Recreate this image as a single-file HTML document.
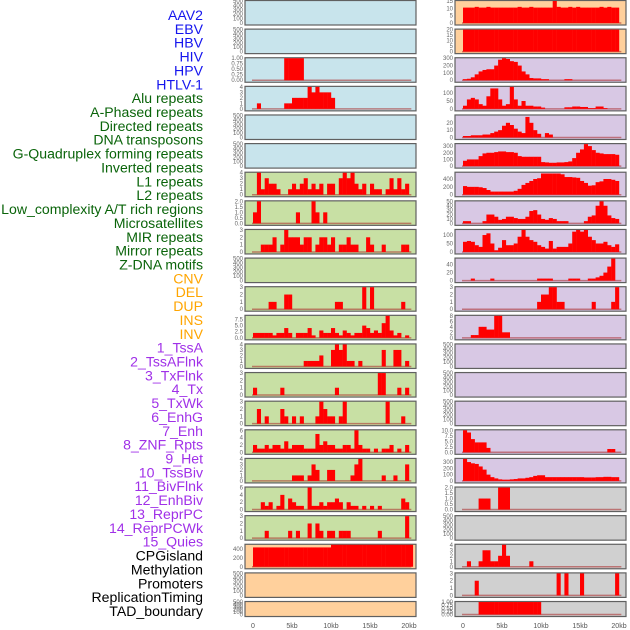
<!DOCTYPE html>
<html><head><meta charset="utf-8"><style>
html,body{margin:0;padding:0;background:#fff;}
svg{display:block;font-family:"Liberation Sans",sans-serif;}
</style></head><body>
<svg id="chart" width="630" height="630" viewBox="0 0 630 630" xmlns="http://www.w3.org/2000/svg">
<g id="labels"></g>
<g id="panels"></g>
</svg>
<script>
// ---- data ----
const trackLabels = ["AAV2","EBV","HBV","HIV","HPV","HTLV-1","Alu repeats","A-Phased repeats","Directed repeats","DNA transposons","G-Quadruplex forming repeats","Inverted repeats","L1 repeats","L2 repeats","Low_complexity A/T rich regions","Microsatellites","MIR repeats","Mirror repeats","Z-DNA motifs","CNV","DEL","DUP","INS","INV","1_TssA","2_TssAFlnk","3_TxFlnk","4_Tx","5_TxWk","6_EnhG","7_Enh","8_ZNF_Rpts","9_Het","10_TssBiv","11_BivFlnk","12_EnhBiv","13_ReprPC","14_ReprPCWk","15_Quies","CPGisland","Methylation","Promoters","ReplicationTiming","TAD_boundary"];
const labelColors = ["#1515ee","#1515ee","#1515ee","#1515ee","#1515ee","#1515ee","#0a640a","#0a640a","#0a640a","#0a640a","#0a640a","#0a640a","#0a640a","#0a640a","#0a640a","#0a640a","#0a640a","#0a640a","#0a640a","#ffa500","#ffa500","#ffa500","#ffa500","#ffa500","#a030e8","#a030e8","#a030e8","#a030e8","#a030e8","#a030e8","#a030e8","#a030e8","#a030e8","#a030e8","#a030e8","#a030e8","#a030e8","#a030e8","#a030e8","#000","#000","#000","#000","#000"];
const xTicks = [0,5,10,15,20];
const xTickLabels = ["0","5kb","10kb","15kb","20kb"];
const binKb = 0.5;
const E = [];
const leftBg = ["#c8e4ec","#c8e4ec","#c8e4ec","#c8e4ec","#c8e4ec","#c8e4ec","#c8e0a4","#c8e0a4","#c8e0a4","#c8e0a4","#c8e0a4","#c8e0a4","#c8e0a4","#c8e0a4","#c8e0a4","#c8e0a4","#c8e0a4","#c8e0a4","#c8e0a4","#ffd09c","#ffd09c","#ffd09c"];
const leftMax = [500,500,1,4,500,500,4,2,3,500,3,9,4,3,3,6,4,6,3,500,500,500];
const leftTicks = [[0,100,200,300,400,500],[0,100,200,300,400,500],[0,0.25,0.5,0.75,1],[0,1,2,3,4],[0,100,200,300,400,500],[0,100,200,300,400,500],[0,1,2,3,4],[0,0.5,1,1.5,2],[0,1,2,3],[0,100,200,300,400,500],[0,1,2,3],[0,2.5,5,7.5],[0,1,2,3,4],[0,1,2,3],[0,1,2,3],[0,2,4,6],[0,1,2,3,4],[0,2,4,6],[0,1,2,3],[0,200,400],[0,100,200,300,400,500],[0,100,200,300,400,500]];
const L0 = E, L1 = E, L4 = E, L5 = E, L9 = E, L20 = E, L21 = E;
const L2 = [0,0,0,0,0,0,0,0,1,1,1,1,1,0,0,0,0,0,0,0,0,0,0,0,0,0,0,0,0,0,0,0,0,0,0,0,0,0,0,0];
const L3 = [0,1,0,0,0,0,0,0,1,1,2,2,2,2,4,3,4,3,3,3,2,0,0,0,0,0,0,0,0,0,0,0,0,0,0,0,0,0,0,0];
const L6 = [0,4,1,3,2,2,1,0,0,1,2,1,2,3,1,2,1,2,0,2,2,0,3,4,3,4,2,1,2,0,2,1,1,0,1,3,1,3,1,2];
const L7 = [1,2,0,0,0,0,0,0,0,0,0,1,0,0,0,2,1,0,1,0,0,0,0,0,0,0,0,0,0,0,0,0,0,0,0,0,0,0,0,0];
const L8 = [0,0,1,1,1,2,0,1,3,2,2,2,1,2,2,0,1,2,2,1,2,0,1,1,2,1,1,0,0,2,1,0,0,1,0,0,0,0,1,1];
const L10 = [0,0,0,0,1,1,0,0,2,2,0,0,0,0,0,0,0,0,0,0,0,1,1,0,0,0,0,0,3,0,3,0,0,0,0,0,0,0,1,0];
const L11 = [2,2,2,2,2,1,2,2,4,2,0,2,2,2,4,1,0,3,2,2,4,2,1,3,2,1,2,2,5,4,2,3,2,6,9,3,1,2,0,1];
const L12 = [0,0,0,0,0,0,0,0,0,0,0,0,0,1,1,1,1,2,0,0,3,4,3,4,1,1,0,1,0,0,0,0,0,3,0,0,3,3,0,1];
const L13 = [1,0,0,0,0,0,0,1,0,0,0,0,0,0,0,0,0,0,0,0,0,1,0,0,0,0,0,0,0,0,0,0,3,3,0,0,0,1,0,1];
const L14 = [0,2,0,1,0,0,0,2,1,0,1,0,1,0,0,0,1,3,2,1,1,0,1,3,0,0,0,0,0,0,0,0,0,0,3,0,0,0,1,0];
const L15 = [2,1,1,2,1,2,2,1,3,1,2,2,2,1,1,1,5,2,3,2,2,1,1,2,2,1,6,2,1,1,0,1,0,1,1,2,0,1,0,2];
const L16 = [0,0,0,0,0,0,0,0,0,0,1,1,1,0,1,3,2,0,0,2,2,0,0,0,0,1,3,4,0,0,0,0,0,1,0,0,1,0,0,3];
const L17 = [0,0,2,1,2,0,1,4,0,3,2,1,1,0,6,1,1,2,1,2,2,3,2,0,2,1,1,0,1,0,1,0,1,0,0,0,0,0,3,2];
const L18 = [0,0,0,1,0,0,0,0,0,1,0,1,0,0,2,0,2,1,0,1,1,0,1,1,1,0,0,0,0,0,0,0,1,0,0,0,0,0,0,3];
const L19 = [440,440,440,440,440,440,440,440,440,440,440,440,440,440,440,440,440,440,440,440,500,500,500,500,500,500,500,500,500,500,500,500,500,500,500,500,500,500,500,500,500];
const leftVals = [L0,L1,L2,L3,L4,L5,L6,L7,L8,L9,L10,L11,L12,L13,L14,L15,L16,L17,L18,L19,L20,L21];
const rightBg = ["#ffd09c","#ffd09c","#d8c8e4","#d8c8e4","#d8c8e4","#d8c8e4","#d8c8e4","#d8c8e4","#d8c8e4","#d8c8e4","#d8c8e4","#d8c8e4","#d8c8e4","#d8c8e4","#d8c8e4","#d8c8e4","#d8c8e4","#d0d0d0","#d0d0d0","#d0d0d0","#d0d0d0","#d0d0d0"];
const rightMax = [15,20,300,140,30,330,560,50,130,55,3,8,500,500,500,10,350,2,500,4,3,1];
const rightTicks = [[0,5,10,15],[0,5,10,15,20],[0,100,200,300],[0,50,100],[0,10,20],[0,100,200,300],[0,200,400],[0,10,20,30,40,50],[0,50,100],[0,20,40],[0,1,2,3],[0,2,4,6,8],[0,100,200,300,400,500],[0,100,200,300,400,500],[0,100,200,300,400,500],[0,2.5,5,7.5,10],[0,100,200,300],[0,0.5,1,1.5,2],[0,100,200,300,400,500],[0,1,2,3,4],[0,1,2,3],[0,0.25,0.5,0.75,1]];
const R0 = [10.5,10.5,10.5,11,10.5,10.5,11,10.5,10.5,10.5,10.5,10.5,10.5,10.5,11,10.5,10.5,11,10.5,10.5,10.5,10.5,10.5,15,11,10.5,10.5,11,10.5,11,10.5,10.5,10.5,10.5,10.5,11,10.5,11,10.5,10.5];
const R1 = [20,20,20,20,20,20,20,20,20,20,20,20,20,20,20,20,20,20,20,20,20,20,20,20,20,20,20,20,20,20,20,20,20,20,20,20,20,20,20,20];
const R2 = [15,20,40,80,120,140,150,150,200,280,300,290,260,250,200,120,80,30,25,25,15,15,0,0,0,0,15,15,0,0,0,0,0,0,0,0,0,0,0,0];
const R3 = [20,60,70,60,30,20,80,130,130,60,20,30,140,60,20,50,20,20,15,15,8,0,0,0,0,0,10,10,15,15,12,12,5,5,15,15,5,0,0,0];
const R4 = [2,2,3,3,3,4,4,6,8,10,16,20,17,12,8,6,28,20,10,5,0,6,4,0,0,0,0,0,0,0,0,0,0,0,0,0,0,0,0,0];
const R5 = [80,100,100,100,150,190,200,200,210,220,220,210,210,200,150,140,140,140,140,140,60,55,50,50,55,55,60,70,120,200,250,330,300,240,200,190,180,180,180,170];
const R6 = [220,200,200,200,190,170,120,80,80,80,80,80,80,100,150,250,300,350,400,420,540,540,540,540,540,520,450,450,440,430,350,300,230,240,320,340,400,400,380,350];
const R7 = [5,5,0,0,0,5,20,20,15,8,10,15,15,12,10,10,15,28,30,20,10,8,12,10,5,5,5,0,0,0,0,5,15,18,40,50,40,18,12,10];
const R8 = [60,65,60,40,30,100,110,50,10,25,70,40,40,50,90,130,90,70,60,40,30,20,65,20,30,30,30,50,120,130,120,130,90,70,50,50,60,40,30,45];
const R9 = [0,0,5,0,0,0,0,5,0,0,0,0,0,0,0,0,0,0,0,5,5,5,5,0,0,0,0,5,5,5,0,0,5,5,8,12,20,35,55,0];
const R10 = [0,0,0,0,0,0,0,0,0,0,0,0,0,0,0,0,0,0,0,1,2,2,3,3,1,1,0,0,0,0,0,0,0,1,0,0,0,0,1,3];
const R11 = [0,0,1,1,4,4,3,3,8,8,2,2,0,0,0,0,0,0,0,0,0,0,0,0,0,0,0,0,0,0,0,0,0,0,0,0,0,0,0,0];
const R12 = E, R13 = E, R14 = E, R18 = E;
const R15 = [10,9,6,4.5,4.5,4.5,2,0,0,0,0,0,0,0,0,0,0,0,0,0,0,0,0,0,0,0,0,0,0,0,0,0,0,0,0,0,0,1.5,1.5,0];
const R16 = [350,300,280,270,230,180,100,60,40,25,20,20,25,30,40,40,50,60,80,90,90,60,60,60,60,60,60,60,60,60,60,55,55,55,60,60,65,65,60,60];
const R17 = [0,0,0,0,1,1,1,0,0,2,2,2,0,0,0,0,0,0,0,0,0,0,0,0,0,0,0,0,0,0,0,0,0,0,0,0,0,0,0,0];
const R19 = [0,1,0,0,1,3,3,1,1,2,4,2,0,0,0,0,0,1,0,0,0,0,0,0,0,0,0,0,0,0,0,0,0,0,0,0,0,0,0,0];
const R20 = [0,0,0,2,0,0,0,0,0,0,0,0,0,0,0,0,0,0,0,0,0,0,0,0,3,0,3,0,0,0,3,0,0,0,0,0,0,0,0,3];
const R21 = [0,0,0,0,1,1,1,1,1,1,1,1,1,1,1,1,1,1,1,1,0,0,0,0,0,0,0,0,0,0,0,0,0,0,0,0,0,0,0,0];
const rightVals = [R0,R1,R2,R3,R4,R5,R6,R7,R8,R9,R10,R11,R12,R13,R14,R15,R16,R17,R18,R19,R20,R21];

// ---- drawing ----
const NS = "http://www.w3.org/2000/svg";
function mk(tag, attrs, parent){const e=document.createElementNS(NS,tag);for(const k in attrs)e.setAttribute(k,attrs[k]);parent.appendChild(e);return e;}
const gl = document.getElementById("labels");
const gp = document.getElementById("panels");
trackLabels.forEach((t,i)=>{
  const e = mk("text",{x:203,y:20+i*13.86,"text-anchor":"end","font-size":"14.1",fill:labelColors[i]},gl);
  e.textContent = t;
  
  
});
function fmt(v, ticks){const dec = ticks.some(t=>t%1!==0); if(!dec) return String(v); const two = ticks.some(t=>Math.round(t*100)%50!==0); return v.toFixed(two?2:1);}
function drawColumn(px, x0, bgs, maxes, ticks, vals, side){
  for(let r=0;r<22;r++){
    const top = r*28.62, h = (r===21)?15:24.5;
    const xs = kb => x0 + kb*7.8;
    const ys = v => (top+h-1.5) - v/maxes[r]*(h-2.5);
    const g = mk("g",{},gp);
    
    
    mk("rect",{x:px,y:top+0.5,width:171,height:h,fill:bgs[r],stroke:"#606060","stroke-width":1.2},g);
    const v = vals[r];
    if(v.length){
      const base = mk("line",{x1:xs(0)-1,x2:xs(20.3),y1:ys(0),y2:ys(0),stroke:"rgba(170,40,40,0.55)","stroke-width":1.5},g);
      
      
    }
    v.forEach((val,i)=>{
      if(val<=0) return;
      const b = mk("rect",{x:xs(i*binKb),y:ys(val),width:binKb*7.8+0.2,height:ys(0)-ys(val),fill:"#ff0000"},g);
      
      
    });
    ticks[r].forEach(tv=>{
      const t = mk("text",{x:px-2,y:ys(tv)+2,"text-anchor":"end","font-size":"6",fill:"#666"},g);
      t.textContent = fmt(tv,ticks[r]);
      
      
    });
  }
  xTicks.forEach((kb,i)=>{
    const t = mk("text",{x:x0+kb*7.8,y:628,"text-anchor":"middle","font-size":"7",fill:"#555"},gp);
    t.textContent = xTickLabels[i];
    
    
  });
}
drawColumn(245,253,leftBg,leftMax,leftTicks,leftVals,'left');
drawColumn(455,463,rightBg,rightMax,rightTicks,rightVals,'right');
</script>
</body></html>
